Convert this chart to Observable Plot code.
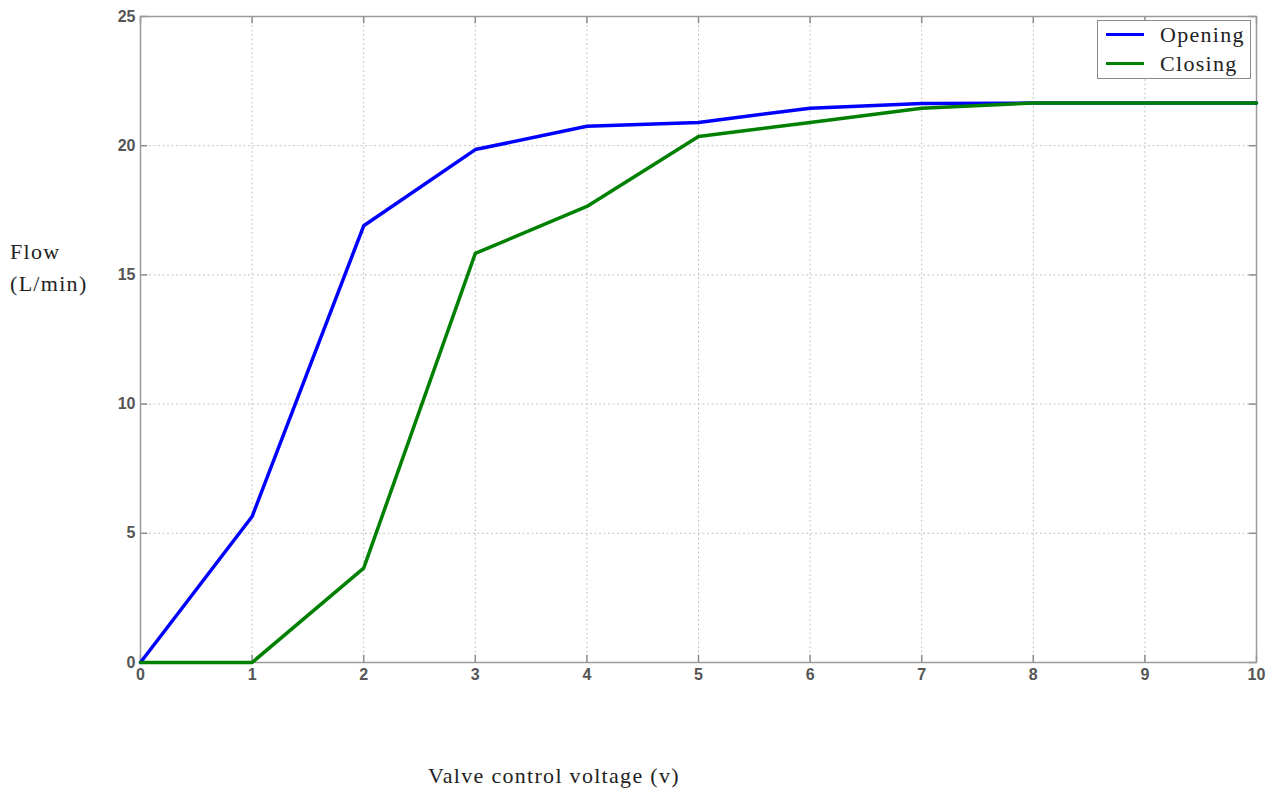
<!DOCTYPE html>
<html>
<head>
<meta charset="utf-8">
<script src="https://cdn.jsdelivr.net/npm/d3@7"></script>
<script src="https://cdn.jsdelivr.net/npm/@observablehq/plot@0.6"></script>
<style>
  html, body { margin: 0; padding: 0; background: #fff; }
  #wrap { position: relative; width: 1271px; height: 789px; overflow: hidden; }
  .lab { position: absolute; font-family: "Liberation Serif", "Times New Roman", serif; font-size: 22px; letter-spacing: 1.3px; color: #222; white-space: nowrap; line-height: 1; }
  #legend { position: absolute; left: 1097px; top: 20px; width: 152px; height: 57px; border: 1px solid #8a8a8a; background: #fff; }
  .leg-row { position: absolute; left: 0; height: 20px; }
  .leg-line { position: absolute; left: 8px; width: 38px; height: 3px; top: 11px; }
  .leg-text { position: absolute; left: 62px; top: 2px; font-family: "Liberation Serif", "Times New Roman", serif; font-size: 22px; letter-spacing: 1.3px; color: #222; line-height: 1; white-space: nowrap; }
</style>
</head>
<body>
<div id="wrap"></div>
<script>
const voltage = [0, 1, 2, 3, 4, 5, 6, 7, 8, 9, 10];
const opening = [0, 5.65, 16.9, 19.85, 20.75, 20.9, 21.45, 21.63, 21.65, 21.65, 21.65];
const closing = [0, 0, 3.65, 15.83, 17.65, 20.36, 20.9, 21.45, 21.65, 21.65, 21.65];
const seriesNames = ["Opening", "Closing"];
const seriesColors = ["#0000ff", "#008000"];
const xTicks = [0, 1, 2, 3, 4, 5, 6, 7, 8, 9, 10];
const yTicks = [0, 5, 10, 15, 20, 25];
const yLabelLines = ["Flow", "(L/min)"];
const xLabel = "Valve control voltage (v)";

const openData = voltage.map((v, i) => ({x: v, y: opening[i]}));
const closeData = voltage.map((v, i) => ({x: v, y: closing[i]}));

const tickFont = {fontSize: 16, fontWeight: "bold", fill: "#555", fontFamily: "Liberation Sans, Arial, sans-serif"};

const chart = Plot.plot({
  width: 1271,
  height: 789,
  marginLeft: 140,
  marginRight: 15,
  marginTop: 16,
  marginBottom: 127,
  style: {background: "#fff", fontFamily: "Liberation Sans, Arial, sans-serif"},
  x: {domain: [0, 10]},
  y: {domain: [0, 25]},
  marks: [
    Plot.gridX(xTicks, {stroke: "#c4c4c4", strokeOpacity: 1, strokeDasharray: "2,2.5"}),
    Plot.gridY(yTicks, {stroke: "#c4c4c4", strokeOpacity: 1, strokeDasharray: "2,2.5"}),
    Plot.ruleX(xTicks, {y1: 0, y2: 0.28, stroke: "#8c8c8c", strokeWidth: 1.5}),
    Plot.ruleX(xTicks, {y1: 25, y2: 24.72, stroke: "#8c8c8c", strokeWidth: 1.5}),
    Plot.ruleY(yTicks, {x1: 0, x2: 0.065, stroke: "#8c8c8c", strokeWidth: 1.5}),
    Plot.ruleY(yTicks, {x1: 10, x2: 9.935, stroke: "#8c8c8c", strokeWidth: 1.5}),
    Plot.frame({stroke: "#9a9a9a", strokeWidth: 1.5}),
    Plot.axisX(xTicks, {tickSize: 0, tickPadding: 6, tickFormat: d => String(d), ...tickFont, label: null}),
    Plot.axisY(yTicks, {tickSize: 0, tickPadding: 5, tickFormat: d => String(d), ...tickFont, label: null}),
    Plot.line(openData, {x: "x", y: "y", stroke: seriesColors[0], strokeWidth: 3.5}),
    Plot.line(closeData, {x: "x", y: "y", stroke: seriesColors[1], strokeWidth: 3.5})
  ]
});

const wrap = document.getElementById("wrap");
wrap.appendChild(chart);
chart.style.position = "absolute";
chart.style.left = "0px";
chart.style.top = "0px";

// Axis labels
yLabelLines.forEach((t, i) => {
  const d = document.createElement("div");
  d.className = "lab";
  d.textContent = t;
  d.style.left = "10px";
  d.style.top = (241 + i * 32) + "px";
  wrap.appendChild(d);
});
const xl = document.createElement("div");
xl.className = "lab";
xl.textContent = xLabel;
xl.style.left = "428px";
xl.style.top = "765px";
wrap.appendChild(xl);

// Legend
const leg = document.createElement("div");
leg.id = "legend";
seriesNames.forEach((name, i) => {
  const row = document.createElement("div");
  row.className = "leg-row";
  row.style.top = (1 + i * 29) + "px";
  const ln = document.createElement("div");
  ln.className = "leg-line";
  ln.style.background = seriesColors[i];
  const tx = document.createElement("div");
  tx.className = "leg-text";
  tx.textContent = name;
  row.appendChild(ln);
  row.appendChild(tx);
  leg.appendChild(row);
});
wrap.appendChild(leg);
</script>
</body>
</html>
